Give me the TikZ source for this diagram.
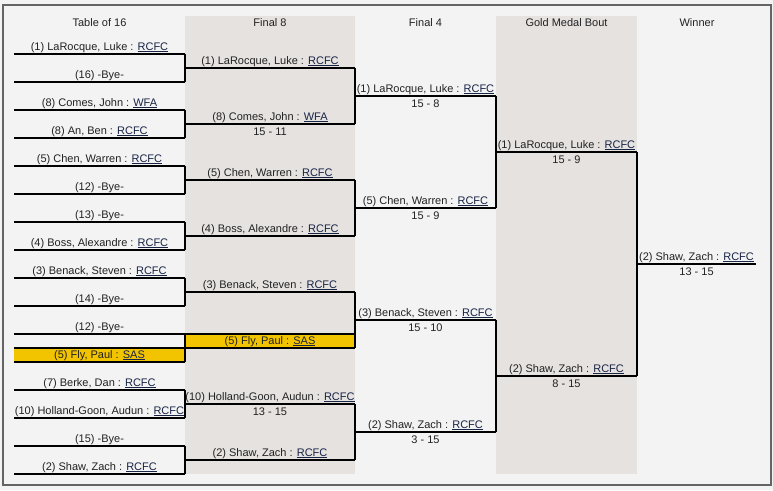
\documentclass[tikz,border=0pt]{standalone}
\usepackage{fontspec}
\setmainfont{Liberation Sans}
\definecolor{bgc}{RGB}{244,243,243}
\definecolor{colshade}{RGB}{229,226,224}
\definecolor{framec}{RGB}{100,100,100}
\definecolor{gold}{RGB}{242,196,0}
\definecolor{textc}{RGB}{34,34,34}
\definecolor{clubc}{RGB}{24,36,70}
\newcommand\club[1]{\textcolor{clubc}{\underline{#1}}}
\tikzset{
  bline/.style={draw=black,line width=1.1pt},
  lbl/.style={anchor=base,inner sep=0pt,font=\fontsize{11}{13}\selectfont,text=textc},
  hdr/.style={anchor=base,inner sep=0pt,font=\fontsize{11}{13}\selectfont,text=textc},
}
% slot: name, xl, xr, y, label
\newcommand\slot[5]{%
  \coordinate (#1-l) at (#2,#4);
  \coordinate (#1-r) at (#3,#4);
  \draw[bline] (#1-l) -- (#1-r);
  \node[lbl] (#1-t) at ({(#2+#3)/2},{#4-4}) {#5};
}
% score: name, xl, xr, y, score
\newcommand\score[5]{%
  \node[lbl] (#1-s) at ({(#2+#3)/2},{#4+11.5}) {#5};
}
\begin{document}
\begin{tikzpicture}[x=1pt,y=-1pt]
\useasboundingbox (0,0) rectangle (773,490);
\fill[bgc] (0,0) rectangle (773,490);
\fill[colshade] (185,16) rectangle (355,474);
\fill[colshade] (496,16) rectangle (637,474);
\draw[framec,line width=1.6pt] (3,5) rectangle (771,485);
% highlights
\fill[gold] (14,348) rectangle (185,362);
\fill[gold] (185,334) rectangle (355,348);
\draw[bline] (14,348) -- (185,348);
\draw[bline] (185,334) -- (355,334);
% headers
\node[hdr] (h1) at (99.5,26) {Table of 16};
\node[hdr] (h2) at (270,26) {Final 8};
\node[hdr] (h3) at (425.5,26) {Final 4};
\node[hdr] (h4) at (566.5,26) {Gold Medal Bout};
\node[hdr] (h5) at (697,26) {Winner};
% Table of 16
\slot{t1}{14}{185}{54}{(1) LaRocque, Luke : \club{RCFC}}
\slot{t2}{14}{185}{82}{(16) -Bye-}
\slot{t3}{14}{185}{110}{(8) Comes, John : \club{WFA}}
\slot{t4}{14}{185}{138}{(8) An, Ben : \club{RCFC}}
\slot{t5}{14}{185}{166}{(5) Chen, Warren : \club{RCFC}}
\slot{t6}{14}{185}{194}{(12) -Bye-}
\slot{t7}{14}{185}{222}{(13) -Bye-}
\slot{t8}{14}{185}{250}{(4) Boss, Alexandre : \club{RCFC}}
\slot{t9}{14}{185}{278}{(3) Benack, Steven : \club{RCFC}}
\slot{t10}{14}{185}{306}{(14) -Bye-}
\slot{t11}{14}{185}{334}{(12) -Bye-}
\slot{t12}{14}{185}{362}{(5) Fly, Paul : \club{SAS}}
\slot{t13}{14}{185}{390}{(7) Berke, Dan : \club{RCFC}}
\slot{t14}{14}{185}{418}{(10) Holland-Goon, Audun : \club{RCFC}}
\slot{t15}{14}{185}{446}{(15) -Bye-}
\slot{t16}{14}{185}{474}{(2) Shaw, Zach : \club{RCFC}}
% Final 8
\slot{e1}{185}{355}{68}{(1) LaRocque, Luke : \club{RCFC}}
\slot{e2}{185}{355}{124}{(8) Comes, John : \club{WFA}}
\score{e2}{185}{355}{124}{15 - 11}
\slot{e3}{185}{355}{180}{(5) Chen, Warren : \club{RCFC}}
\slot{e4}{185}{355}{236}{(4) Boss, Alexandre : \club{RCFC}}
\slot{e5}{185}{355}{292}{(3) Benack, Steven : \club{RCFC}}
\slot{e6}{185}{355}{348}{(5) Fly, Paul : \club{SAS}}
\slot{e7}{185}{355}{404}{(10) Holland-Goon, Audun : \club{RCFC}}
\score{e7}{185}{355}{404}{13 - 15}
\slot{e8}{185}{355}{460}{(2) Shaw, Zach : \club{RCFC}}
% Final 4
\slot{f1}{355}{496}{96}{(1) LaRocque, Luke : \club{RCFC}}
\score{f1}{355}{496}{96}{15 - 8}
\slot{f2}{355}{496}{208}{(5) Chen, Warren : \club{RCFC}}
\score{f2}{355}{496}{208}{15 - 9}
\slot{f3}{355}{496}{320}{(3) Benack, Steven : \club{RCFC}}
\score{f3}{355}{496}{320}{15 - 10}
\slot{f4}{355}{496}{432}{(2) Shaw, Zach : \club{RCFC}}
\score{f4}{355}{496}{432}{3 - 15}
% Gold medal bout
\slot{g1}{496}{637}{152}{(1) LaRocque, Luke : \club{RCFC}}
\score{g1}{496}{637}{152}{15 - 9}
\slot{g2}{496}{637}{376}{(2) Shaw, Zach : \club{RCFC}}
\score{g2}{496}{637}{376}{8 - 15}
% Winner
\slot{w}{637}{756}{264}{(2) Shaw, Zach : \club{RCFC}}
\score{w}{637}{756}{264}{13 - 15}
% vertical connectors
\foreach \a/\b in {t1/t2,t3/t4,t5/t6,t7/t8,t9/t10,t11/t12,t13/t14,t15/t16,
                   e1/e2,e3/e4,e5/e6,e7/e8,f1/f2,f3/f4,g1/g2}
  \draw[bline] (\a-r) -- (\b-r);
\end{tikzpicture}
\end{document}
